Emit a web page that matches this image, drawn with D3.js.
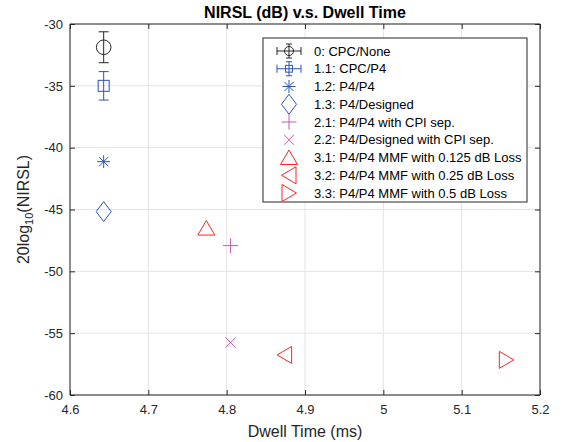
<!DOCTYPE html>
<html><head><meta charset="utf-8">
<script src="https://cdn.jsdelivr.net/npm/d3@7"></script>
<style>
body{margin:0;background:#fff;}
text{font-family:"Liberation Sans",Arial,Helvetica,sans-serif;}
</style></head>
<body><svg id="c" width="563" height="442"></svg>
<script>
const labels = ["0: CPC/None","1.1: CPC/P4","1.2: P4/P4","1.3: P4/Designed","2.1: P4/P4 with CPI sep.","2.2: P4/Designed with CPI sep.","3.1: P4/P4 MMF with 0.125 dB Loss","3.2: P4/P4 MMF with 0.25 dB Loss","3.3: P4/P4 MMF with 0.5 dB Loss"];
const dwell = [4.643, 4.643, 4.643, 4.643, 4.805, 4.805, 4.774, 4.874, 5.157];
const nirsl = [-31.88, -35.0, -41.13, -45.17, -47.92, -55.76, -46.5, -56.76, -57.16];
const errs = [1.25, 1.15, null, null, null, null, null, null, null];
const markers = ["circle","square","asterisk","diamond","plus","cross","triUp","triLeft","triRight"];
const colors = ["#262626","#2f52b4","#2f52b4","#2f52b4","#c45ab0","#c45ab0","#ff2222","#ff2222","#ff2222"];
const xTicks = [4.6,4.7,4.8,4.9,5.0,5.1,5.2];
const yTicks = [-30,-35,-40,-45,-50,-55,-60];

const svg = d3.select("#c");
const L=70,R=540,T=24,B=395;
const x = d3.scaleLinear().domain([4.6,5.2]).range([L,R]);
const y = d3.scaleLinear().domain([-60,-30]).range([B,T]);
const axisCol="#262626";

// grid
const g = svg.append("g");
g.selectAll(".gx").data(xTicks).join("line").attr("x1",d=>x(d)).attr("x2",d=>x(d)).attr("y1",T).attr("y2",B).attr("stroke","#e3e3e3").attr("stroke-width",1);
g.selectAll(".gy").data(yTicks).join("line").attr("y1",d=>y(d)).attr("y2",d=>y(d)).attr("x1",L).attr("x2",R).attr("stroke","#e3e3e3").attr("stroke-width",1);

// axes (ticks inward)
const xa = svg.append("g").attr("transform",`translate(0,${B})`).call(d3.axisBottom(x).tickValues(xTicks).tickSize(-5).tickPadding(10).tickFormat(d=>String(+d.toFixed(1))));
const xt = svg.append("g").attr("transform",`translate(0,${T})`).call(d3.axisTop(x).tickValues(xTicks).tickSize(-5).tickFormat(""));
const ya = svg.append("g").attr("transform",`translate(${L},0)`).call(d3.axisLeft(y).tickValues(yTicks).tickSize(-5).tickPadding(7).tickFormat(d=>String(d)));
const yr = svg.append("g").attr("transform",`translate(${R},0)`).call(d3.axisRight(y).tickValues(yTicks).tickSize(-5).tickFormat(""));
[xa,xt,ya,yr].forEach(a=>{
  a.select(".domain").attr("stroke",axisCol).attr("stroke-width",1);
  a.selectAll(".tick line").attr("stroke",axisCol);
  a.selectAll(".tick text").attr("fill",axisCol).attr("font-size",13).attr("font-family","Liberation Sans, Arial, sans-serif");
});
xa.selectAll(".domain").attr("d",`M${L},0H${R}`);
xt.selectAll(".domain").attr("d",`M${L},0H${R}`);
ya.selectAll(".domain").attr("d",`M0,${T}V${B}`);
yr.selectAll(".domain").attr("d",`M0,${T}V${B}`);

// marker drawing
function drawMarker(sel, type, cx, cy, col, sc){
  sc = sc||1;
  const s = sel.append("g").attr("transform",`translate(${cx},${cy})`).attr("fill","none").attr("stroke",col).attr("stroke-width",1);
  if(type==="circle") s.append("circle").attr("r",7.3*sc);
  else if(type==="square") s.append("rect").attr("x",-5.5*sc).attr("y",-5.5*sc).attr("width",11*sc).attr("height",11*sc);
  else if(type==="asterisk"){
    s.append("path").attr("d","M0,-6.5V6.5M-6.5,0H6.5M-4.6,-4.6L4.6,4.6M-4.6,4.6L4.6,-4.6");
  }
  else if(type==="diamond") s.append("path").attr("d","M0,-10L7.5,0L0,10L-7.5,0Z");
  else if(type==="plus") s.append("path").attr("d","M0,-7.5V7.5M-7.5,0H7.5");
  else if(type==="cross") s.append("path").attr("d","M-5,-5L5,5M-5,5L5,-5");
  else if(type==="triUp") s.append("path").attr("d","M0,-7.5L8.5,7L-8.5,7Z");
  else if(type==="triLeft") s.append("path").attr("d","M-7.5,0L7,-8.5L7,8.5Z");
  else if(type==="triRight") s.append("path").attr("d","M7.5,0L-7,-8.5L-7,8.5Z");
  return s;
}

// error bars + markers
const pts = svg.append("g");
dwell.forEach((d,i)=>{
  const cx=x(d), cy=y(nirsl[i]), col=colors[i];
  if(errs[i]!=null){
    const y1=y(nirsl[i]+errs[i]), y2=y(nirsl[i]-errs[i]);
    pts.append("path").attr("d",`M${cx},${y1}V${y2}M${cx-5},${y1}H${cx+5}M${cx-5},${y2}H${cx+5}`).attr("stroke",col).attr("fill","none").attr("stroke-width",1);
  }
  drawMarker(pts, markers[i], cx, cy, col);
});

// legend
const lg = svg.append("g");
const lx0=263, ly0=38, lw=264, lh=164;
lg.append("rect").attr("x",lx0).attr("y",ly0).attr("width",lw).attr("height",lh).attr("fill","#fff").attr("stroke",axisCol).attr("stroke-width",1);
labels.forEach((lab,i)=>{
  const ry = 51 + i*17.75, mx = 289, col=colors[i];
  if(errs[i]!=null){
    lg.append("path").attr("d",`M${mx-12},${ry}H${mx+12}M${mx-12},${ry-4}V${ry+4}M${mx+12},${ry-4}V${ry+4}M${mx},${ry-7}V${ry+7}M${mx-3},${ry-7}H${mx+3}M${mx-3},${ry+7}H${mx+3}`).attr("stroke",col).attr("fill","none");
    drawMarker(lg, markers[i], mx, ry, col, 0.62);
  } else {
    drawMarker(lg, markers[i], mx, ry, col);
  }
  lg.append("text").attr("x",314).attr("y",ry).attr("dy","0.35em").attr("font-size",13).attr("fill","#000").text(lab);
});

// title and labels
svg.append("text").attr("x",305).attr("y",18).attr("text-anchor","middle").attr("font-size",16).attr("font-weight","bold").attr("fill","#000").text("NIRSL (dB) v.s. Dwell Time");
svg.append("text").attr("x",305).attr("y",437).attr("text-anchor","middle").attr("font-size",16).attr("fill",axisCol).text("Dwell Time (ms)");
const yl = svg.append("text").attr("transform",`translate(29,${(T+B)/2}) rotate(-90)`).attr("text-anchor","middle").attr("font-size",16).attr("fill",axisCol);
yl.append("tspan").text("20log");
yl.append("tspan").attr("font-size",11).attr("dy",4).text("10");
yl.append("tspan").attr("dy",-4).text("(NIRSL)");
</script></body></html>
